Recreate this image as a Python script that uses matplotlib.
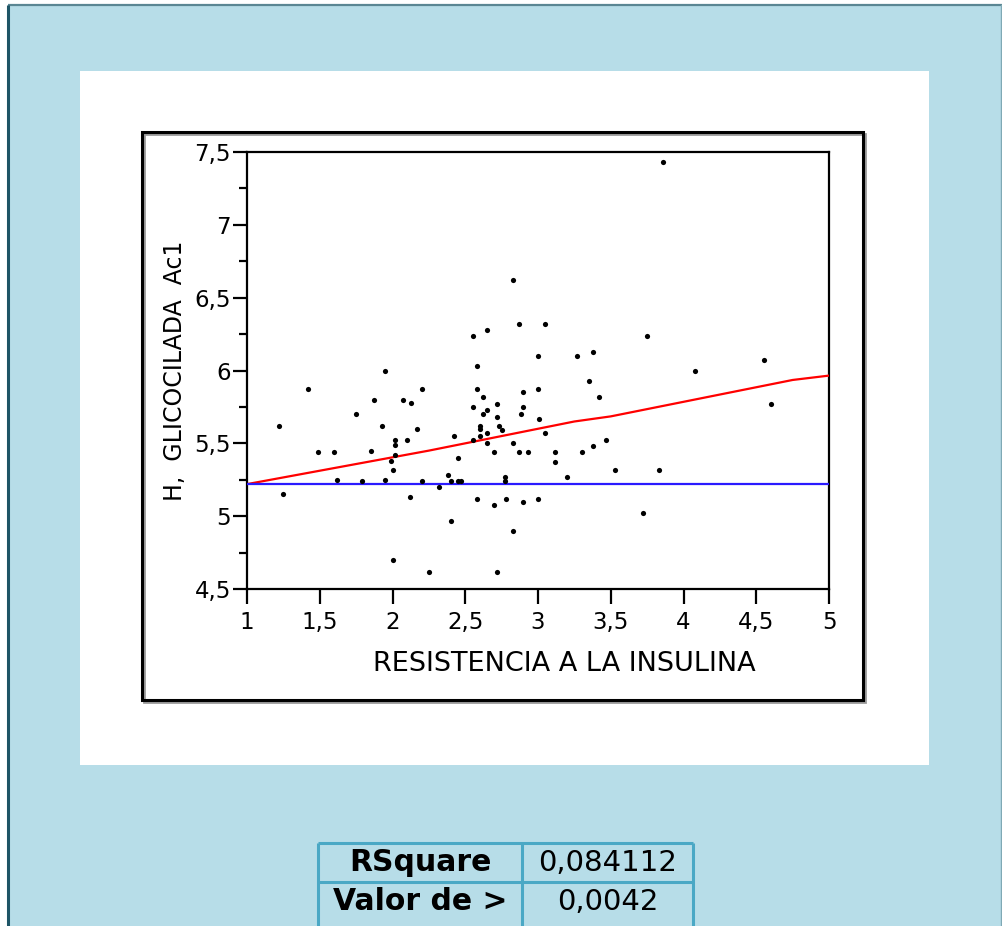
# Regression of HbA1c on insulin resistance, with fit summary table
import matplotlib
matplotlib.use('Agg')
import matplotlib.pyplot as plt
from matplotlib.patches import Rectangle
from matplotlib.ticker import MultipleLocator, FuncFormatter

# Scatter values
resistencia = [2.83, 2.87, 2.65, 2.55, 3.00, 2.58, 1.95,
               3.86, 3.05, 3.75, 3.27, 3.38, 4.55, 4.08,
               1.42, 2.20, 2.58, 2.90, 3.00, 2.62, 1.87, 2.07, 2.13, 2.55,
               2.72, 2.90, 2.65, 1.75, 2.62, 2.88, 2.72, 3.01, 1.22, 1.93,
               2.60, 2.60, 2.73, 2.17, 2.75, 2.65, 2.60, 2.42, 2.02, 2.10,
               2.55, 2.02, 2.65, 2.83, 1.49, 1.60, 1.85, 2.70, 2.87, 2.93,
               2.02, 2.45, 1.99, 2.00, 1.62, 1.95, 1.79, 2.20, 2.38, 2.40,
               2.45, 2.47, 2.77, 2.77, 2.32, 1.25, 2.12, 2.58, 2.78, 3.00,
               2.90, 2.70, 2.40, 2.83, 2.00, 2.25, 2.72,
               3.35, 3.42, 4.60, 3.05, 3.12, 3.12, 3.30, 3.38, 3.47, 3.20,
               3.53, 3.83, 3.72]
hba1c = [6.62, 6.32, 6.28, 6.24, 6.10, 6.03, 6.00,
         7.43, 6.32, 6.24, 6.10, 6.13, 6.07, 6.00,
         5.87, 5.87, 5.87, 5.85, 5.87, 5.82, 5.80, 5.80, 5.78, 5.75,
         5.77, 5.75, 5.73, 5.70, 5.70, 5.70, 5.68, 5.67, 5.62, 5.62,
         5.62, 5.60, 5.62, 5.60, 5.59, 5.57, 5.55, 5.55, 5.52, 5.52,
         5.52, 5.49, 5.50, 5.50, 5.44, 5.44, 5.45, 5.44, 5.44, 5.44,
         5.42, 5.40, 5.38, 5.32, 5.25, 5.25, 5.24, 5.24, 5.28, 5.24,
         5.24, 5.24, 5.27, 5.24, 5.20, 5.15, 5.13, 5.12, 5.12, 5.12,
         5.10, 5.08, 4.97, 4.90, 4.70, 4.62, 4.62,
         5.93, 5.82, 5.77, 5.57, 5.44, 5.37, 5.44, 5.48, 5.52, 5.27,
         5.32, 5.32, 5.02]

# smoothed fit (red) and mean line (blue)
fit_x = [1, 2.25, 3.25, 3.5, 4.75, 5]
fit_y = [5.22, 5.45, 5.65, 5.685, 5.935, 5.965]
mean_x = [1, 5]
mean_y = [5.22, 5.22]

x_ticks = [1, 1.5, 2, 2.5, 3, 3.5, 4, 4.5, 5]
y_ticks = [4.5, 5, 5.5, 6, 6.5, 7, 7.5]

table_labels = ['RSquare', 'Valor de >']
table_values = ['0,084112', '0,0042']

W, H = 1002, 926
plt.rcParams['font.family'] = 'DejaVu Sans'
fig = plt.figure(figsize=(W / 100, H / 100), dpi=100, facecolor='white')

# background drawn in pixel coordinates
bg = fig.add_axes([0, 0, 1, 1], zorder=0)
bg.set_xlim(0, W)
bg.set_ylim(H, 0)
bg.axis('off')

bg.add_patch(Rectangle((8, 5), W - 9, H + 10, facecolor='#b7dde8',
                       edgecolor='none'))
bg.plot([8, W], [5, 5], color='#5a8693', lw=1.6, solid_capstyle='butt')
bg.plot([8.5, 8.5], [5, H], color='#1e5566', lw=2.2, solid_capstyle='butt')
bg.plot([1001, 1001], [5, H], color='#7fa9b5', lw=1.0)
bg.add_patch(Rectangle((80, 71), 849, 694, facecolor='white',
                       edgecolor='none'))
# chart frame with a faint shadow
bg.add_patch(Rectangle((144, 134), 721, 568, facecolor='none',
                       edgecolor='#9a9a9a', lw=2.0))
bg.add_patch(Rectangle((142, 132), 721, 568, facecolor='none',
                       edgecolor='black', lw=2.2))

# summary table
tcol = '#4aa8c5'
col_edges = [318, 522, 693]
row_edges = [843, 882]
for xe in col_edges:
    bg.plot([xe, xe], [843, H + 5], color=tcol, lw=2.2,
            solid_capstyle='butt')
for ye in row_edges:
    bg.plot([col_edges[0], col_edges[-1]], [ye, ye], color=tcol, lw=2.2,
            solid_capstyle='butt')
row_centres = [862.5, 902]
for lab, val, yc in zip(table_labels, table_values, row_centres):
    bg.text(420, yc, lab, ha='center', va='center', fontsize=21.5,
            fontweight='bold', color='black')
    bg.text(607.5, yc, val, ha='center', va='center', fontsize=21,
            color='black')

# the scatter plot
ax = fig.add_axes([247 / W, 1 - 589 / H, 582 / W, 437 / H], zorder=2)
ax.set_facecolor('white')
ax.scatter(resistencia, hba1c, s=14, color='black', zorder=4,
           linewidths=0)
ax.plot(fit_x, fit_y, color='#ff0000', lw=1.6, zorder=3)
ax.plot(mean_x, mean_y, color='#2a1aff', lw=1.6, zorder=3)

ax.set_xlim(1, 5)
ax.set_ylim(4.5, 7.5)
ax.set_xticks(x_ticks)
ax.set_yticks(y_ticks)
ax.yaxis.set_minor_locator(MultipleLocator(0.25))
fmt = FuncFormatter(lambda v, p: ('%g' % v).replace('.', ','))
ax.xaxis.set_major_formatter(fmt)
ax.yaxis.set_major_formatter(fmt)
for sp in ax.spines.values():
    sp.set_linewidth(1.6)
ax.tick_params(axis='x', which='major', direction='out', length=10.5,
               width=1.6, pad=5, labelsize=16.5)
ax.tick_params(axis='y', which='major', direction='out', length=10,
               width=1.6, pad=1.5, labelsize=16.5)
ax.tick_params(axis='y', which='minor', direction='out', length=5.5,
               width=1.6)

ax.set_xlabel('RESISTENCIA A LA INSULINA', fontsize=19.5)
ax.xaxis.set_label_coords(0.546, -0.142)
ax.set_ylabel('H,  GLICOCILADA  Ac1', fontsize=17)
ax.yaxis.set_label_coords(-0.103, 0.5)

fig.savefig('out.png', dpi=100, facecolor=fig.get_facecolor())
